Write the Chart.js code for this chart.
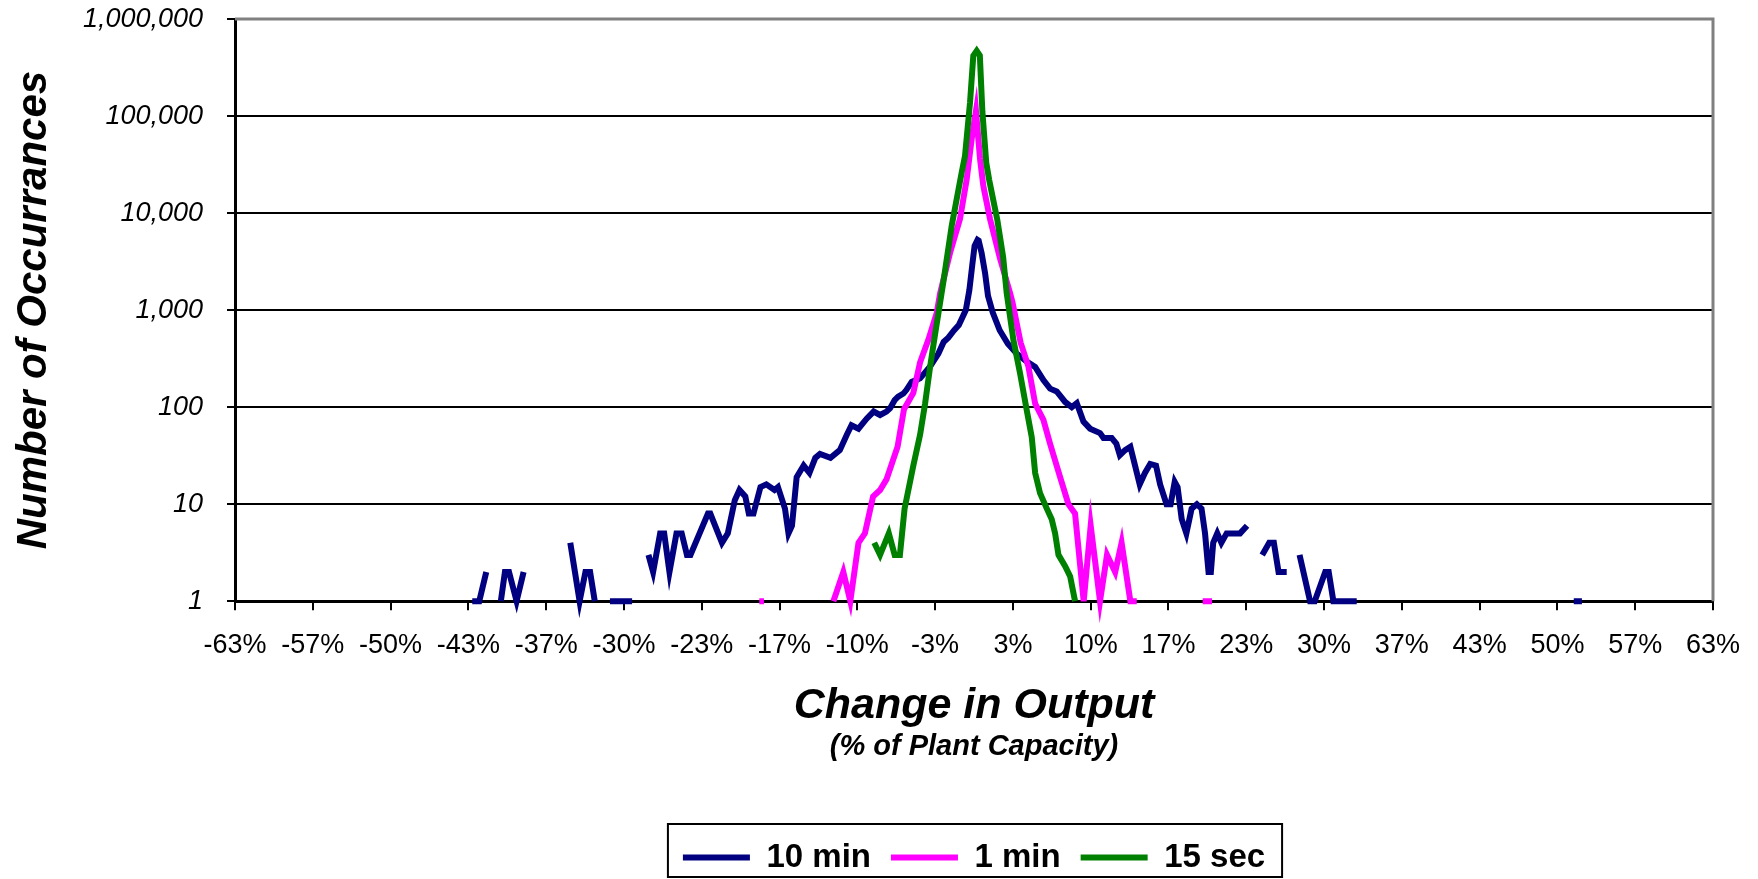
<!DOCTYPE html>
<html>
<head>
<meta charset="utf-8">
<style>
  html, body { margin: 0; padding: 0; background: #fff; }
  #wrap { width: 1758px; height: 879px; }
</style>
<script src="https://cdn.jsdelivr.net/npm/chart.js@4.4.0/dist/chart.umd.min.js"></script>
</head>
<body>
<div id="wrap"><canvas id="rampChart"></canvas></div>
<script>
// x tick labels (% of plant capacity) and y decades
const xTickLabels = ["-63%", "-57%", "-50%", "-43%", "-37%", "-30%", "-23%", "-17%", "-10%", "-3%",
  "3%", "10%", "17%", "23%", "30%", "37%", "43%", "50%", "57%", "63%"];
const yTicks = [1, 10, 100, 1000, 10000, 100000, 1000000];

// 10 min series (null = no occurrences, line breaks)
const tenMinPct = [
  -43.0, -42.4, -41.8, -41.2,
  -40.55, -40.2, -39.85, -39.2, -38.6, -36.5,
  -34.6, -33.8, -33.3, -32.9, -32.5, -31.8,
  -31.2, -29.3, -28.6,
  -27.9, -27.5, -26.9, -26.55, -26.1, -25.5, -25.05, -24.6, -24.3, -22.8, -22.6, -21.6, -21.1, -20.5,
  -20.1, -19.6, -19.3, -18.9, -18.3, -17.8, -17.1, -16.8, -16.2, -15.9, -15.6, -15.2, -14.6, -14.1,
  -13.6, -13.2, -12.3, -11.5, -10.9, -10.5, -9.9, -9.2, -8.6, -8.05, -7.5, -7.2, -6.8, -6.5, -6.05,
  -5.8, -5.34, -4.62, -3.76, -3.05, -2.6, -2.2, -1.7, -1.3, -0.7, -0.4, -0.15, 0.05, 0.3, 0.4, 0.65,
  0.95, 1.2, 1.6, 2.2, 2.9, 3.66, 4.52, 5.24, 5.95, 6.52, 7.09, 7.81, 8.38, 8.81, 9.38, 9.95, 10.8,
  11.1, 11.8, 12.2, 12.5, 12.95, 13.4, 13.8, 14.2, 14.65, 15.1, 15.6, 15.95, 16.5, 16.85, 17.2, 17.45,
  17.8, 18.2, 18.65, 19.1, 19.5, 19.8, 20.1, 20.3, 20.5, 20.85, 21.2, 21.65, 22.1, 22.8, 23.4, 24.0,
  24.7, 25.3, 25.7, 26.1, 26.5, 26.8, 27.3,
  27.9, 28.8, 29.2, 30.1, 30.4, 30.8, 31.4, 32.8, 40,
  51.4, 52.1,
];
const tenMinCount = [
  1, 1, 2, null,
  1, 2, 2, 1, 2, null,
  4, 1, 2, 2, 1, null,
  1, 1, null,
  3, 2, 5, 5, 2, 5, 5, 3, 3, 8, 8, 4, 5, 11,
  14, 12, 8, 8, 15, 16, 14, 15, 9, 5, 6, 19, 25, 21,
  30, 33, 30, 36, 52, 65, 60, 76, 90, 83, 90, 97, 118, 128, 138,
  150, 182, 198, 262, 357, 470, 520, 620, 700, 1000, 1600, 2900, 4600, 5300, 5200, 3900,
  2400, 1400, 950, 620, 450, 357, 295, 260, 190, 155, 145, 113, 100, 110, 71, 60, 54,
  48, 48, 42, 32, 36, 39, 25, 16, 21, 26, 25, 16, 10, 10, 17, 15,
  7, 5, 9, 10, 9, 5, 2, 2, 4, 5, 4, 5, 5, 5, 6, null,
  3, 4, 4, 2, 2, 2, null,
  3, 1, 1, 2, 2, 1, 1, 1, null,
  1, 1,
];

// 1 min series
const oneMinPct = [
  -18.4, -18.0, -15,
  -12.05, -11.2, -10.6, -9.9, -9.35, -8.65, -8.05, -7.5, -6.55, -6.0, -5.2, -4.62, -3.9, -3.2, -2.9,
  -2.05, -1.2, -0.63, -0.2, 0.17, 0.52, 0.8, 1.37, 2.23, 3.09, 3.3, 4.0, 4.66, 5.24, 5.95, 6.52, 7.38,
  8.09, 8.66, 9.4, 10.0, 10.8, 11.4, 12.1, 12.65, 13.4, 13.95, 17,
  19.6, 20.4,
];
const oneMinCount = [
  1, 1, null,
  1, 2, 1, 4, 5, 12, 14, 18, 39, 95, 140, 290, 500, 930, 1500,
  3900, 8700, 22000, 58000, 113000, 36000, 19000, 8700, 3400, 1500, 1200, 460, 263, 109, 74, 42, 19,
  10, 8, 1, 6, 1, 3, 2, 4, 1, 1, null,
  1, 1,
];

// 15 sec series
const fifteenSecPct = [
  -8.55, -8.05, -7.3, -6.8, -6.35, -5.95, -5.2, -4.62, -4.19, -3.76, -3.34, -2.63, -1.91, -1.06, -0.77,
  -0.34, -0.06, 0.23, 0.5, 0.72, 1.05, 1.3, 2.0, 2.5, 2.8, 3.38, 3.95, 4.52, 4.95, 5.24, 5.66, 6.24,
  6.66, 6.95, 7.24, 7.81, 8.24, 8.66,
];
const fifteenSecCount = [
  4, 3, 5, 3, 3, 9, 25, 52, 109, 262, 560, 1940, 7400, 26000, 39000,
  138000, 418000, 470000, 420000, 110000, 33000, 22000, 8500, 3500, 1500, 490, 222, 93, 49, 21, 13, 9,
  7, 5, 3, 2.3, 1.8, 1,
];

const FONT = "'Liberation Sans', Arial, sans-serif";
Chart.defaults.font.family = FONT;
Chart.defaults.color = "#000";

function toPoints(xs, ys) {
  return xs.map((x, i) => ({ x: x, y: ys[i] }));
}

function seriesStyle(color, order) {
  return {
    borderColor: color,
    backgroundColor: color,
    borderWidth: 6,
    pointRadius: 0,
    pointHoverRadius: 0,
    pointStyle: "line",
    tension: 0,
    spanGaps: false,
    clip: false,
    order: order,
  };
}

// grey top/right edges of the plot area
const plotFrame = {
  id: "plotFrame",
  beforeDatasetsDraw(chart) {
    const { ctx, chartArea: a } = chart;
    ctx.save();
    ctx.strokeStyle = "#808080";
    ctx.lineWidth = 3;
    ctx.beginPath();
    ctx.moveTo(a.left, a.top);
    ctx.lineTo(a.right, a.top);
    ctx.lineTo(a.right, a.bottom);
    ctx.stroke();
    ctx.restore();
  },
};

// black box around the legend
const legendFrame = {
  id: "legendFrame",
  afterDraw(chart) {
    const boxes = chart.legend.legendHitBoxes;
    if (!boxes || !boxes.length) return;
    const ctx = chart.ctx;
    const left = Math.min(...boxes.map((b) => b.left)) - 15;
    const right = Math.max(...boxes.map((b) => b.left + b.width)) + 17;
    const top = Math.min(...boxes.map((b) => b.top)) - 17;
    ctx.save();
    ctx.strokeStyle = "#000";
    ctx.lineWidth = 2;
    ctx.strokeRect(left, top, right - left, chart.height - 2 - top);
    ctx.restore();
  },
};

const ctx = document.getElementById("rampChart").getContext("2d");

new Chart(ctx, {
  type: "line",
  data: {
    datasets: [
      Object.assign({ label: "10 min", data: toPoints(tenMinPct, tenMinCount) }, seriesStyle("#000080", 3)),
      Object.assign({ label: "1 min", data: toPoints(oneMinPct, oneMinCount) }, seriesStyle("#FF00FF", 2)),
      Object.assign({ label: "15 sec", data: toPoints(fifteenSecPct, fifteenSecCount) }, seriesStyle("#008000", 1)),
    ],
  },
  options: {
    responsive: true,
    maintainAspectRatio: false,
    animation: false,
    layout: { padding: { top: 19, right: 45, left: 0, bottom: -5 } },
    plugins: {
      tooltip: { enabled: false },
      legend: {
        position: "bottom",
        fullSize: false,
        labels: {
          usePointStyle: true,
          pointStyleWidth: 67,
          padding: 20,
          color: "#000",
          font: { size: 33, weight: "bold" },
          sort: (a, b) => a.datasetIndex - b.datasetIndex,
        },
      },
      subtitle: {
        display: true,
        text: "(% of Plant Capacity)",
        position: "bottom",
        fullSize: false,
        weight: 500,
        color: "#000",
        font: { size: 29, weight: "bold", style: "italic", lineHeight: 1.2 },
        padding: { top: 2, bottom: 57 },
      },
    },
    scales: {
      x: {
        type: "linear",
        min: -190 / 3,
        max: 190 / 3,
        afterBuildTicks: (axis) => {
          axis.ticks = xTickLabels.map((_, i) => ({ value: -190 / 3 + (i * 20) / 3 }));
        },
        afterFit: (scale) => {
          scale.height = 126;
          scale.paddingLeft = 0;
          scale.paddingRight = 0;
        },
        border: { color: "#000", width: 3 },
        grid: { drawOnChartArea: false, tickLength: 9, color: "#000", lineWidth: 2 },
        ticks: {
          autoSkip: false,
          maxRotation: 0,
          padding: 19,
          color: "#000",
          font: { size: 27 },
          callback: (value, index) => xTickLabels[index],
        },
        title: {
          display: true,
          text: "Change in Output",
          color: "#000",
          font: { size: 43, weight: "bold", style: "italic", lineHeight: 1 },
          padding: { top: 0, bottom: 0 },
        },
      },
      y: {
        type: "logarithmic",
        min: 1,
        max: 1000000,
        afterBuildTicks: (axis) => {
          axis.ticks = yTicks.map((v) => ({ value: v }));
        },
        afterFit: (scale) => {
          scale.width = 235;
          scale.paddingTop = 0;
          scale.paddingBottom = 0;
        },
        border: { color: "#000", width: 3 },
        grid: { color: "#000", lineWidth: 2, tickLength: 8 },
        ticks: {
          padding: 24,
          color: "#000",
          font: { size: 27, style: "italic" },
          callback: (value) => Number(value).toLocaleString("en-US"),
        },
        title: {
          display: true,
          text: "Number of Occurrances",
          color: "#000",
          font: { size: 42, weight: "bold", style: "italic", lineHeight: 1 },
          padding: { top: 13, bottom: 0 },
        },
      },
    },
  },
  plugins: [plotFrame, legendFrame],
});
</script>
</body>
</html>
